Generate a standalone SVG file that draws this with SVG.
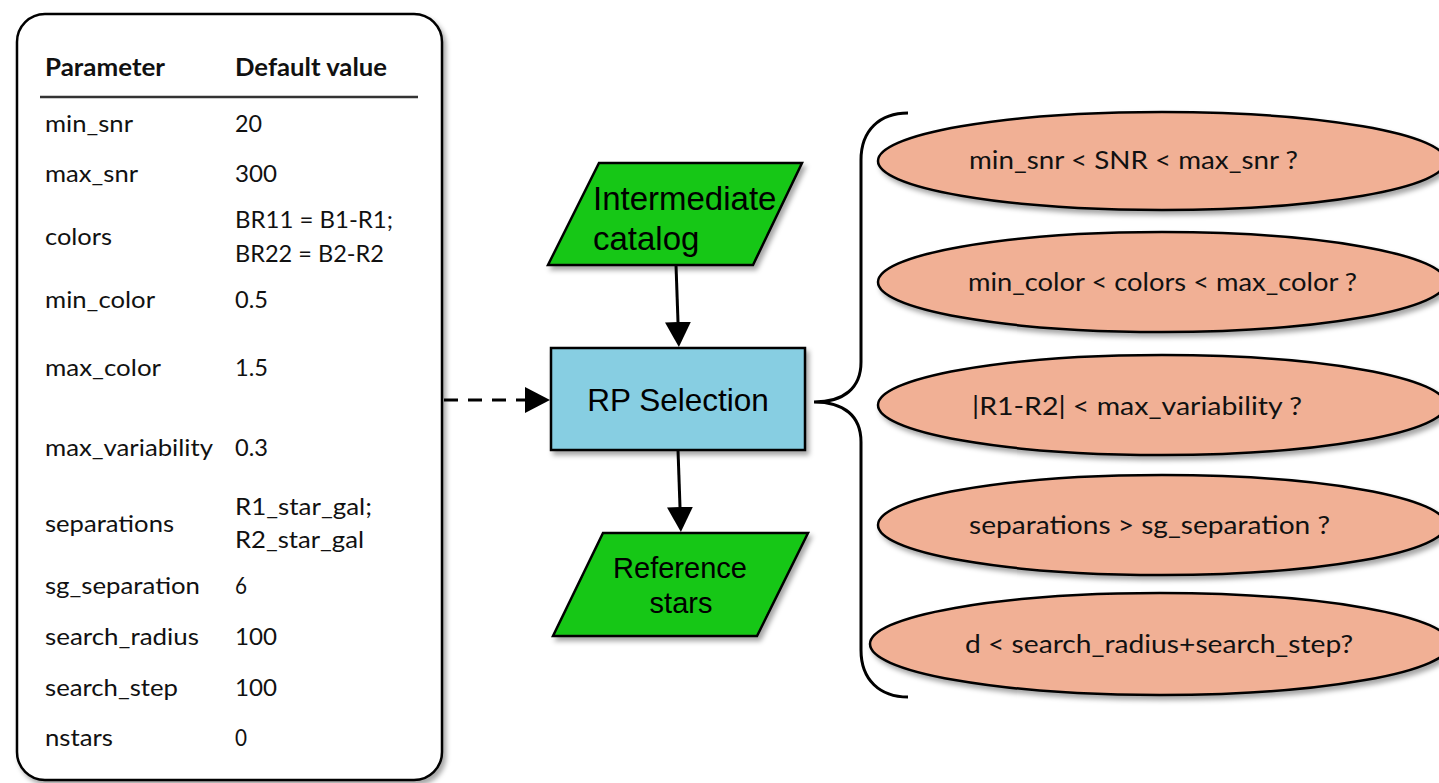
<svg xmlns="http://www.w3.org/2000/svg" width="1439" height="783" viewBox="0 0 1439 783">
<defs>
<filter id="sh" x="-10%" y="-10%" width="130%" height="130%">
<feDropShadow dx="3" dy="4" stdDeviation="2.5" flood-color="#000" flood-opacity="0.35"/>
</filter>
<marker id="ah" markerUnits="userSpaceOnUse" markerWidth="26" markerHeight="26" refX="0" refY="13" orient="auto">
<path d="M0,0 L25,13 L0,26 z" fill="#000"/>
</marker>
</defs>
<style>
.t{font-family:Lato,"Open Sans","Liberation Sans",sans-serif;font-size:24px;fill:#111}
.e{font-size:24.5px}
.b{font-weight:bold}
.f{font-family:"Liberation Sans",Arial,sans-serif;fill:#000}
.para{fill:#18c718;stroke:#000;stroke-width:2.5;filter:url(#sh)}
.ell{fill:#f1b095;stroke:#000;stroke-width:2.5;filter:url(#sh)}
.con{stroke:#000;stroke-width:3;fill:none}
</style>
<rect width="1439" height="783" fill="#fff"/>

<g id="params">
<rect x="17" y="14" width="425" height="766" rx="28" fill="#fff" stroke="#000" stroke-width="2.5" filter="url(#sh)"/>
<line x1="40" y1="97" x2="418" y2="97" stroke="#333" stroke-width="2.5"/>
<text class="t b" x="45" y="76" textLength="120" lengthAdjust="spacingAndGlyphs">Parameter</text>
<text class="t b" x="235" y="76" textLength="152" lengthAdjust="spacingAndGlyphs">Default value</text>
<text class="t" x="45" y="132" textLength="88" lengthAdjust="spacingAndGlyphs">min_snr</text>
<text class="t" x="235" y="132" textLength="27" lengthAdjust="spacingAndGlyphs">20</text>
<text class="t" x="45" y="182" textLength="93" lengthAdjust="spacingAndGlyphs">max_snr</text>
<text class="t" x="235" y="182" textLength="42" lengthAdjust="spacingAndGlyphs">300</text>
<text class="t" x="45" y="245" textLength="67" lengthAdjust="spacingAndGlyphs">colors</text>
<text class="t" x="235" y="228" textLength="158" lengthAdjust="spacingAndGlyphs">BR11 = B1-R1;</text>
<text class="t" x="235" y="262" textLength="149" lengthAdjust="spacingAndGlyphs">BR22 = B2-R2</text>
<text class="t" x="45" y="308" textLength="110" lengthAdjust="spacingAndGlyphs">min_color</text>
<text class="t" x="235" y="308" textLength="33" lengthAdjust="spacingAndGlyphs">0.5</text>
<text class="t" x="45" y="376" textLength="116" lengthAdjust="spacingAndGlyphs">max_color</text>
<text class="t" x="235" y="376" textLength="33" lengthAdjust="spacingAndGlyphs">1.5</text>
<text class="t" x="45" y="456" textLength="168" lengthAdjust="spacingAndGlyphs">max_variability</text>
<text class="t" x="235" y="456" textLength="33" lengthAdjust="spacingAndGlyphs">0.3</text>
<text class="t" x="45" y="532" textLength="129" lengthAdjust="spacingAndGlyphs">separations</text>
<text class="t" x="235" y="515" textLength="137" lengthAdjust="spacingAndGlyphs">R1_star_gal;</text>
<text class="t" x="235" y="548" textLength="129" lengthAdjust="spacingAndGlyphs">R2_star_gal</text>
<text class="t" x="45" y="594" textLength="155" lengthAdjust="spacingAndGlyphs">sg_separation</text>
<text class="t" x="235" y="594" textLength="12" lengthAdjust="spacingAndGlyphs">6</text>
<text class="t" x="45" y="645" textLength="154" lengthAdjust="spacingAndGlyphs">search_radius</text>
<text class="t" x="235" y="645" textLength="42" lengthAdjust="spacingAndGlyphs">100</text>
<text class="t" x="45" y="696" textLength="133" lengthAdjust="spacingAndGlyphs">search_step</text>
<text class="t" x="235" y="696" textLength="42" lengthAdjust="spacingAndGlyphs">100</text>
<text class="t" x="45" y="746" textLength="68" lengthAdjust="spacingAndGlyphs">nstars</text>
<text class="t" x="235" y="746" textLength="12" lengthAdjust="spacingAndGlyphs">0</text>
</g>

<g id="intermediate">
<polygon class="para" points="599,163 802,163 753,265 548,265"/>
<text class="f" x="593" y="210" font-size="33">Intermediate</text>
<text class="f" x="593" y="250" font-size="33">catalog</text>
</g>

<g id="rp">
<rect x="551" y="348" width="254" height="102" fill="#87cee2" stroke="#000" stroke-width="2.5" filter="url(#sh)"/>
<text class="f" x="678" y="411" font-size="31.5" text-anchor="middle">RP Selection</text>
</g>

<g id="reference">
<polygon class="para" points="603,533 808,533 757,636 553,636"/>
<text class="f" x="680" y="578" font-size="29" text-anchor="middle">Reference</text>
<text class="f" x="681" y="613" font-size="29" text-anchor="middle">stars</text>
</g>

<g id="brace">
<path class="con" d="M908 113 C880 113 861 130 861 160 L861 362 C861 388 844 402 814 402 C844 402 861 416 861 442 L861 650 C861 680 880 697 908 697"/>
</g>

<g id="c1">
<ellipse class="ell" cx="1162" cy="161" rx="284" ry="49"/>
<text class="t e" x="969" y="169" textLength="329" lengthAdjust="spacingAndGlyphs">min_snr &lt; SNR &lt; max_snr ?</text>
</g>
<g id="c2">
<ellipse class="ell" cx="1162" cy="282" rx="284" ry="50"/>
<text class="t e" x="968" y="291" textLength="389" lengthAdjust="spacingAndGlyphs">min_color &lt; colors &lt; max_color ?</text>
</g>
<g id="c3">
<ellipse class="ell" cx="1162" cy="405" rx="284" ry="50"/>
<text class="t e" x="972" y="415" textLength="330" lengthAdjust="spacingAndGlyphs">|R1-R2| &lt; max_variability ?</text>
</g>
<g id="c4">
<ellipse class="ell" cx="1162" cy="525" rx="284" ry="50"/>
<text class="t e" x="969" y="534" textLength="361" lengthAdjust="spacingAndGlyphs">separations &gt; sg_separation ?</text>
</g>
<g id="c5">
<ellipse class="ell" cx="1160" cy="644" rx="290" ry="51"/>
<text class="t e" x="965" y="653" textLength="388" lengthAdjust="spacingAndGlyphs">d &lt; search_radius+search_step?</text>
</g>

<g id="connectors">
<line class="con" x1="676" y1="265" x2="678" y2="322" marker-end="url(#ah)"/>
<line class="con" x1="678" y1="450" x2="680" y2="507" marker-end="url(#ah)"/>
<line class="con" x1="444" y1="400" x2="525" y2="400" stroke-dasharray="14 10" marker-end="url(#ah)"/>
</g>
</svg>
